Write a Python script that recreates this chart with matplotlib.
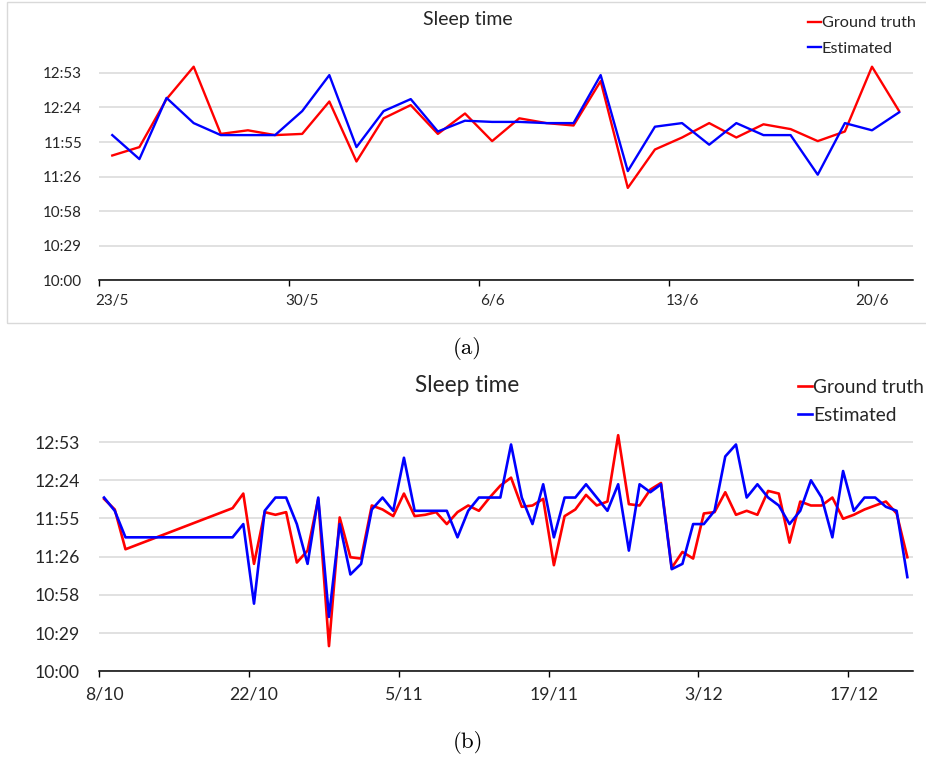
import pandas as pd
import matplotlib
matplotlib.use('Agg')
import matplotlib.pyplot as plt
from matplotlib.patches import Rectangle
from matplotlib.ticker import FixedLocator, FuncFormatter

# Period (a): one night per day, 23/5 - 21/6
dates_a = pd.date_range('2019-05-23', '2019-06-21')
truth_a = ['11:44', '11:51', '12:31', '12:58', '12:02', '12:05', '12:01', '12:02', '12:29', '11:39',
           '12:15', '12:26', '12:02', '12:19', '11:56', '12:15', '12:11', '12:09', '12:46', '11:17',
           '11:49', '11:59', '12:11', '11:59', '12:10', '12:06', '11:56', '12:04', '12:58', '12:21']
est_a = ['12:01', '11:41', '12:32', '12:11', '12:01', '12:01', '12:01', '12:21', '12:51', '11:51',
         '12:21', '12:31', '12:04', '12:13', '12:12', '12:12', '12:11', '12:11', '12:51', '11:31',
         '12:08', '12:11', '11:53', '12:11', '12:01', '12:01', '11:28', '12:11', '12:05', '12:20']

# Period (b): 8/10 - 22/12, nights 11/10 - 19/10 missing
dates_b = pd.DatetimeIndex(['2019-10-08', '2019-10-09', '2019-10-10']).append(
    pd.date_range('2019-10-20', '2019-12-22'))
truth_b = ['12:10', '12:02', '11:32',
           '12:03', '12:14', '11:21', '12:00', '11:58', '12:00', '11:22', '11:31', '12:10', '10:19',
           '11:56', '11:26', '11:25', '12:05', '12:02', '11:57', '12:14', '11:57', '11:58', '12:00',
           '11:51', '12:00', '12:05', '12:01', '12:11', '12:20', '12:26', '12:04', '12:05', '12:10',
           '11:20', '11:57', '12:02', '12:13', '12:05', '12:08', '12:58', '12:06', '12:05', '12:17',
           '12:22', '11:18', '11:30', '11:25', '11:59', '12:00', '12:15', '11:58', '12:01', '11:58',
           '12:16', '12:14', '11:37', '12:08', '12:05', '12:05', '12:11', '11:55', '11:58', '12:02',
           '12:05', '12:08', '11:59', '11:26']
est_b = ['12:11', '12:01', '11:41',
         '11:41', '11:51', '10:51', '12:01', '12:11', '12:11', '11:51', '11:21', '12:11', '10:41',
         '11:51', '11:13', '11:21', '12:02', '12:11', '12:01', '12:41', '12:01', '12:01', '12:01',
         '12:01', '11:41', '12:01', '12:11', '12:11', '12:11', '12:51', '12:11', '11:51', '12:21',
         '11:41', '12:11', '12:11', '12:21', '12:11', '12:01', '12:21', '11:31', '12:21', '12:15',
         '12:21', '11:17', '11:21', '11:51', '11:51', '12:01', '12:42', '12:51', '12:11', '12:21',
         '12:11', '12:05', '11:51', '12:01', '12:24', '12:11', '11:41', '12:31', '12:01', '12:11',
         '12:11', '12:04', '12:01', '11:11']

labels_a = ['23/5', '30/5', '6/6', '13/6', '20/6']
labels_b = ['8/10', '22/10', '5/11', '19/11', '3/12', '17/12']

W, H = 926, 760
plt.rcParams['font.family'] = 'Lato'
TXT = '#262626'


def to_min(clock):
    h, m = clock.split(':')
    return int(h) * 60 + int(m)


def fmt_clock(v, pos=None):
    v = int(round(v))
    return f'{v // 60}:{v % 60:02d}'


def px_axes(left, right, bottom, top):
    # pixel box (from top-left) -> figure axes
    return fig.add_axes([left / W, 1 - bottom / H, (right - left) / W, (bottom - top) / H])


def draw(ax, dates, truth, est, labels, ymax, fs, lw, tickpad, ylabpad):
    start = dates[0]
    x = (dates - start).days + 0.5
    ndays = int(x[-1] + 0.5)
    ax.plot(x, [to_min(t) for t in truth], color='#ff0000', lw=lw, label='Ground truth', zorder=3)
    ax.plot(x, [to_min(t) for t in est], color='#0000ff', lw=lw, label='Estimated', zorder=4)
    ax.set_xlim(0, ndays)
    ax.set_ylim(600, ymax)

    yt = [600 + k * 28.8 for k in range(7)]
    ax.yaxis.set_major_locator(FixedLocator(yt))
    ax.yaxis.set_major_formatter(FuncFormatter(fmt_clock))
    ax.grid(axis='y', color='#d9d9d9', lw=1.1, zorder=0)
    ax.tick_params(axis='y', length=0, pad=ylabpad, labelsize=fs, colors=TXT)

    # tick marks on day boundaries, labels centred on the day
    pos = [(pd.Timestamp(d) - start).days for d in
           [pd.to_datetime(l + '/' + str(start.year), dayfirst=True) for l in labels]]
    ax.set_xticks(pos)
    ax.set_xticklabels([''] * len(pos))
    ax.set_xticks([p + 0.5 for p in pos], minor=True)
    ax.set_xticklabels(labels, minor=True)
    ax.tick_params(axis='x', which='major', length=4.5, width=1, color='black', direction='out')
    ax.tick_params(axis='x', which='minor', length=0, pad=tickpad, labelsize=fs, labelcolor=TXT)

    for s in ['left', 'right', 'top']:
        ax.spines[s].set_visible(False)
    ax.spines['bottom'].set_color('black')
    ax.spines['bottom'].set_linewidth(1.1)
    ax.set_facecolor('none')


fig = plt.figure(figsize=(W / 100, H / 100), dpi=100)

# chart (a)
fig.patches.append(Rectangle((7 / W, 1 - 323 / H), 930 / W, 321 / H, transform=fig.transFigure,
                             fill=False, edgecolor='#d9d9d9', lw=1.0))
ax1 = px_axes(98.7, 912.7, 280.3, 280.3 - 200 * 1.2)
draw(ax1, dates_a, truth_a, est_a, labels_a, 800, 10.9, 1.7, 10, 12)
fig.text(467.5 / W, 1 - 19 / H, 'Sleep time', ha='center', va='center', fontsize=14, color=TXT)
fig.legend(*ax1.get_legend_handles_labels(), loc='upper left', bbox_to_anchor=(807.7 / W, 1 - 16 / H),
           frameon=False, fontsize=11.7, handlelength=0.8, handletextpad=0.05, borderpad=0,
           borderaxespad=0, labelspacing=0.68, labelcolor=TXT)
fig.text(467.8 / W, 1 - 348.5 / H, '(a)', ha='center', va='center', fontsize=16.5, family='cmr10')

# chart (b)
ax2 = px_axes(98.7, 912.7, 671.3, 671.3 - 190 * 38.2 / 28.8)
draw(ax2, dates_b, truth_b, est_b, labels_b, 790, 12.7, 1.9, 11, 13.5)
fig.text(467.5 / W, 1 - 385 / H, 'Sleep time', ha='center', va='center', fontsize=16.3, color=TXT)
fig.legend(*ax2.get_legend_handles_labels(), loc='upper left', bbox_to_anchor=(797.7 / W, 1 - 379 / H),
           frameon=False, fontsize=13.8, handlelength=0.75, handletextpad=0.05, borderpad=0,
           borderaxespad=0, labelspacing=0.58, labelcolor=TXT)
fig.text(468 / W, 1 - 743 / H, '(b)', ha='center', va='center', fontsize=16.5, family='cmr10')

fig.savefig('out.png', dpi=100)
